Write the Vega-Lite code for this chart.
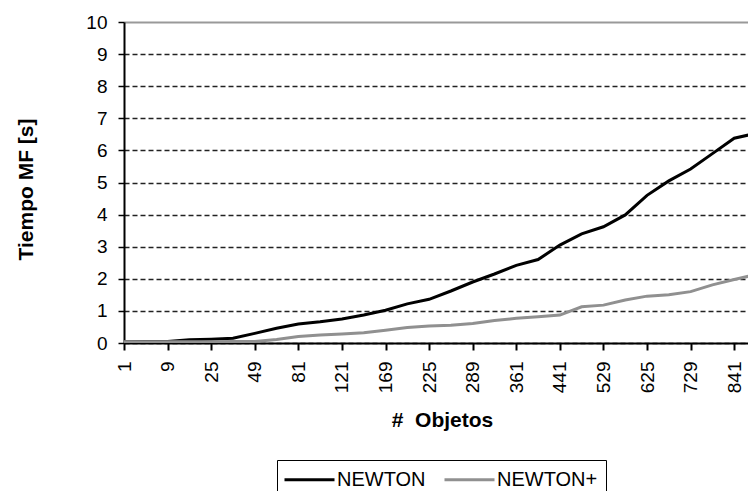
{
  "$schema": "https://vega.github.io/schema/vega-lite/v6.json",
  "width": 624,
  "height": 321,
  "autosize": {"type": "none"},
  "padding": {"left": 124, "top": 22, "right": 0, "bottom": 148},
  "background": "white",
  "config": {
    "view": {"stroke": null},
    "font": "Liberation Sans"
  },
  "data": {
    "values": [
      {"objetos": "1", "serie": "NEWTON", "tiempo": 0.04},
      {"objetos": "4", "serie": "NEWTON", "tiempo": 0.05},
      {"objetos": "9", "serie": "NEWTON", "tiempo": 0.05},
      {"objetos": "16", "serie": "NEWTON", "tiempo": 0.1},
      {"objetos": "25", "serie": "NEWTON", "tiempo": 0.12},
      {"objetos": "36", "serie": "NEWTON", "tiempo": 0.15},
      {"objetos": "49", "serie": "NEWTON", "tiempo": 0.3},
      {"objetos": "64", "serie": "NEWTON", "tiempo": 0.46},
      {"objetos": "81", "serie": "NEWTON", "tiempo": 0.59},
      {"objetos": "100", "serie": "NEWTON", "tiempo": 0.66},
      {"objetos": "121", "serie": "NEWTON", "tiempo": 0.75},
      {"objetos": "144", "serie": "NEWTON", "tiempo": 0.87},
      {"objetos": "169", "serie": "NEWTON", "tiempo": 1.02},
      {"objetos": "196", "serie": "NEWTON", "tiempo": 1.22},
      {"objetos": "225", "serie": "NEWTON", "tiempo": 1.36},
      {"objetos": "256", "serie": "NEWTON", "tiempo": 1.62},
      {"objetos": "289", "serie": "NEWTON", "tiempo": 1.9},
      {"objetos": "324", "serie": "NEWTON", "tiempo": 2.15},
      {"objetos": "361", "serie": "NEWTON", "tiempo": 2.42},
      {"objetos": "400", "serie": "NEWTON", "tiempo": 2.6},
      {"objetos": "441", "serie": "NEWTON", "tiempo": 3.05},
      {"objetos": "484", "serie": "NEWTON", "tiempo": 3.4},
      {"objetos": "529", "serie": "NEWTON", "tiempo": 3.62},
      {"objetos": "576", "serie": "NEWTON", "tiempo": 3.99},
      {"objetos": "625", "serie": "NEWTON", "tiempo": 4.6},
      {"objetos": "676", "serie": "NEWTON", "tiempo": 5.05},
      {"objetos": "729", "serie": "NEWTON", "tiempo": 5.42},
      {"objetos": "784", "serie": "NEWTON", "tiempo": 5.9},
      {"objetos": "841", "serie": "NEWTON", "tiempo": 6.38},
      {"objetos": "900", "serie": "NEWTON", "tiempo": 6.53},
      {"objetos": "1", "serie": "NEWTON+", "tiempo": 0.04},
      {"objetos": "4", "serie": "NEWTON+", "tiempo": 0.04},
      {"objetos": "9", "serie": "NEWTON+", "tiempo": 0.04},
      {"objetos": "16", "serie": "NEWTON+", "tiempo": 0.04},
      {"objetos": "25", "serie": "NEWTON+", "tiempo": 0.04},
      {"objetos": "36", "serie": "NEWTON+", "tiempo": 0.05},
      {"objetos": "49", "serie": "NEWTON+", "tiempo": 0.05},
      {"objetos": "64", "serie": "NEWTON+", "tiempo": 0.11},
      {"objetos": "81", "serie": "NEWTON+", "tiempo": 0.2},
      {"objetos": "100", "serie": "NEWTON+", "tiempo": 0.25},
      {"objetos": "121", "serie": "NEWTON+", "tiempo": 0.28},
      {"objetos": "144", "serie": "NEWTON+", "tiempo": 0.32},
      {"objetos": "169", "serie": "NEWTON+", "tiempo": 0.4},
      {"objetos": "196", "serie": "NEWTON+", "tiempo": 0.48},
      {"objetos": "225", "serie": "NEWTON+", "tiempo": 0.53},
      {"objetos": "256", "serie": "NEWTON+", "tiempo": 0.55},
      {"objetos": "289", "serie": "NEWTON+", "tiempo": 0.61},
      {"objetos": "324", "serie": "NEWTON+", "tiempo": 0.7},
      {"objetos": "361", "serie": "NEWTON+", "tiempo": 0.77},
      {"objetos": "400", "serie": "NEWTON+", "tiempo": 0.82},
      {"objetos": "441", "serie": "NEWTON+", "tiempo": 0.87},
      {"objetos": "484", "serie": "NEWTON+", "tiempo": 1.13},
      {"objetos": "529", "serie": "NEWTON+", "tiempo": 1.18},
      {"objetos": "576", "serie": "NEWTON+", "tiempo": 1.34},
      {"objetos": "625", "serie": "NEWTON+", "tiempo": 1.46},
      {"objetos": "676", "serie": "NEWTON+", "tiempo": 1.5},
      {"objetos": "729", "serie": "NEWTON+", "tiempo": 1.6},
      {"objetos": "784", "serie": "NEWTON+", "tiempo": 1.81},
      {"objetos": "841", "serie": "NEWTON+", "tiempo": 1.98},
      {"objetos": "900", "serie": "NEWTON+", "tiempo": 2.13}
    ]
  },
  "mark": {"type": "line", "clip": true, "strokeWidth": 3},
  "encoding": {
    "x": {
      "field": "objetos",
      "type": "ordinal",
      "sort": null,
      "scale": {"type": "point", "padding": 0, "range": [0, 632]},
      "axis": {
        "title": "#\u00a0 Objetos",
        "titleFont": "Liberation Sans",
        "titleFontSize": 21,
        "titleFontWeight": "bold",
        "titleColor": "black",
        "titleAlign": "center",
        "titleBaseline": "alphabetic",
        "titleX": 318,
        "titleY": 83,
        "values": ["1", "9", "25", "49", "81", "121", "169", "225", "289", "361", "441", "529", "625", "729", "841"],
        "labelAngle": -90,
        "labelAlign": "right",
        "labelBaseline": "middle",
        "labelFontSize": 19,
        "labelColor": "black",
        "labelPadding": 11,
        "tickSize": 7,
        "tickWidth": 2,
        "tickColor": "black",
        "domainColor": "black",
        "domainWidth": 2,
        "grid": false
      }
    },
    "y": {
      "field": "tiempo",
      "type": "quantitative",
      "scale": {"domain": [0, 10], "nice": false},
      "axis": {
        "title": "Tiempo MF [s]",
        "titleFont": "Liberation Sans",
        "titleFontSize": 21,
        "titleFontWeight": "bold",
        "titleColor": "black",
        "titleAngle": -90,
        "titleAlign": "center",
        "titleBaseline": "alphabetic",
        "titleX": -92,
        "titleY": 167,
        "values": [0, 1, 2, 3, 4, 5, 6, 7, 8, 9, 10],
        "labelFontSize": 19,
        "labelColor": "black",
        "labelPadding": 11,
        "tickSize": 6,
        "tickWidth": 1.5,
        "tickColor": "black",
        "domainColor": "black",
        "domainWidth": 2,
        "grid": true,
        "gridColor": {"condition": {"test": "datum.value === 10", "value": "#999999"}, "value": "#222222"},
        "gridWidth": {"condition": {"test": "datum.value === 10", "value": 2}, "value": 1.3},
        "gridDash": {"condition": {"test": "datum.value === 10", "value": []}, "value": [5, 3]}
      }
    },
    "color": {
      "field": "serie",
      "type": "nominal",
      "scale": {"domain": ["NEWTON", "NEWTON+"], "range": ["#000000", "#909090"]},
      "legend": {
        "title": null,
        "orient": "none",
        "legendX": 153,
        "legendY": 438,
        "direction": "horizontal",
        "strokeColor": "black",
        "fillColor": "white",
        "padding": 8,
        "symbolType": "M-2.5,0H2.5",
        "symbolSize": 400,
        "symbolStrokeWidth": 3,
        "symbolOffset": 13,
        "labelOffset": 16,
        "labelFontSize": 20,
        "labelColor": "black",
        "columnPadding": 12
      }
    }
  }
}
